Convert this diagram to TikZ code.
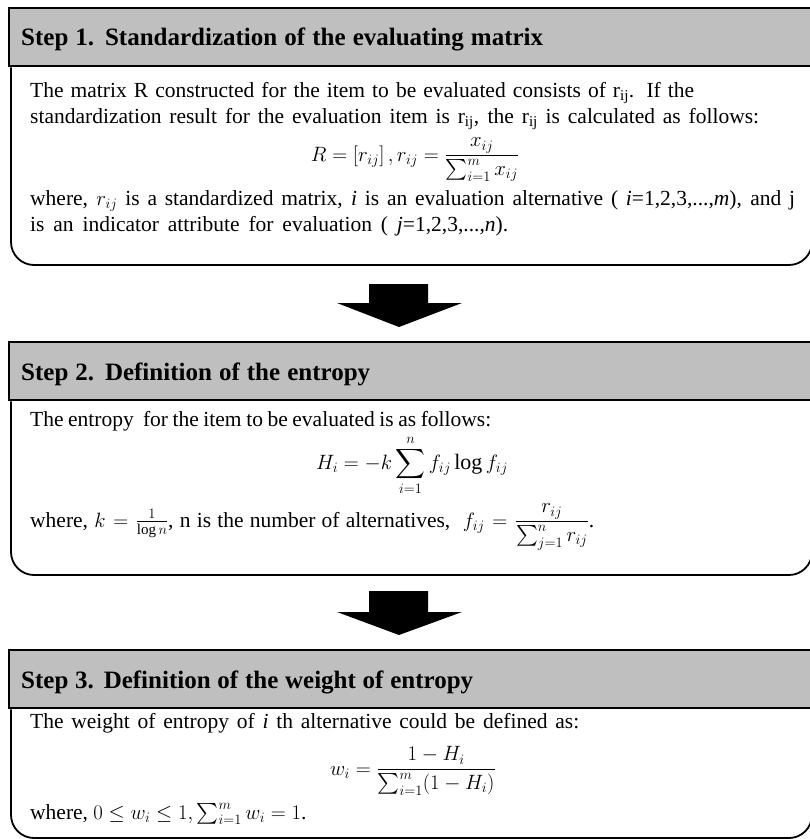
\documentclass[tikz,border=0pt]{standalone}
\usepackage{amsmath}
\usepackage{fontspec}
\setmainfont{Liberation Serif}
\definecolor{hdrgray}{HTML}{BFBFBF}
\newcommand{\spreadline}[2]{\makebox[#1][s]{#2}}
\begin{document}
\begin{tikzpicture}[x=1pt,y=-1pt,
  hdrbox/.style={draw=black, line width=2.3pt, fill=hdrgray, rectangle, inner sep=0pt, anchor=north west, minimum width=812pt, minimum height=58pt},
  bodyline/.style={draw=black, line width=1.8pt, rounded corners=23pt},
  htxt/.style={anchor=base west, inner sep=0pt, font=\fontsize{25}{28}\selectfont\bfseries},
  btxt/.style={anchor=base west, inner sep=0pt, font=\fontsize{21.5}{25}\selectfont},
  mtxt/.style={anchor=base, inner sep=0pt, font=\fontsize{22}{25}\selectfont},
  blockarrow/.style={fill=black, draw=none}]
\useasboundingbox (0,0) rectangle (810,839);

% ---------- Step 1 ----------
\node[hdrbox] (h1) at (8,7) {};
\coordinate (b1bot) at (11,265);
\draw[bodyline] ([xshift=3pt]h1.south west) -- (b1bot) -- (812,265) -- (812,65);
\node[htxt] (h1t) at (21,45) {\spreadline{522pt}{Step 1. Standardization of the evaluating matrix}};
\node[btxt] (s1l1) at (30,97) {\spreadline{664pt}{The matrix R constructed for the item to be evaluated consists of r\textsubscript{ij}. If the}};
\node[btxt] (s1l2) at (30,123) {\spreadline{729pt}{standardization result for the evaluation item is r\textsubscript{ij}, the r\textsubscript{ij} is calculated as follows:}};
\node[mtxt] (s1f) at (415,161) {$R=\left[r_{ij}\right], r_{ij}=\dfrac{x_{ij}}{\sum_{i=1}^{m} x_{ij}}$};
\node[btxt] (s1l3) at (30,205) {\spreadline{765pt}{where, $r_{ij}$ is a standardized matrix, \textit{i} is an evaluation alternative ( \textit{i}=1,2,3,...,\textit{m}), and j}};
\node[btxt] (s1l4) at (30,231) {\spreadline{478pt}{is an indicator attribute for evaluation ( \textit{j}=1,2,3,...,\textit{n}).}};

% ---------- arrow 1 ----------
\coordinate (a1) at (399,284);
\fill[blockarrow] (a1) ++(-30,0) -- ++(59,0) -- ++(0,19) -- ++(34,0) -- (399,327) -- (337,303) -- ++(32,0) -- cycle;

% ---------- Step 2 ----------
\node[hdrbox] (h2) at (8,341) {};
\coordinate (b2bot) at (11,575);
\draw[bodyline] ([xshift=3pt]h2.south west) -- (b2bot) -- (812,575) -- (812,399);
\node[htxt] (h2t) at (21,380) {\spreadline{349pt}{Step 2. Definition of the entropy}};
\node[btxt] (s2l1) at (30,426) {\spreadline{461pt}{The entropy\ \ for the item to be evaluated is as follows:}};
\node[mtxt] (s2f) at (412,469) {$\displaystyle H_i=-k\sum_{i=1}^{n} f_{ij}\log f_{ij}$};
\node[btxt] (s2l2) at (30,527) {\spreadline{564pt}{where, $k=\frac{1}{\log n}$, n is the number of alternatives, \ $f_{ij}=\dfrac{r_{ij}}{\sum_{j=1}^{n} r_{ij}}$.}};

% ---------- arrow 2 ----------
\coordinate (a2) at (399,591);
\fill[blockarrow] (a2) ++(-30,0) -- ++(59,0) -- ++(0,21) -- ++(34,0) -- (399,635) -- (337,612) -- ++(32,0) -- cycle;

% ---------- Step 3 ----------
\node[hdrbox] (h3) at (8,649) {};
\coordinate (b3bot) at (11,838);
\draw[bodyline] ([xshift=3pt]h3.south west) -- (b3bot) -- (812,838) -- (812,707);
\node[htxt] (h3t) at (21,688) {\spreadline{452pt}{Step 3. Definition of the weight of entropy}};
\node[btxt] (s3l1) at (30,728) {\spreadline{549pt}{The weight of entropy of \textit{i} th alternative could be defined as:}};
\node[mtxt] (s3f) at (413,775) {$w_i=\dfrac{1-H_i}{\sum_{i=1}^{m}(1-H_i)}$};
\node[btxt] (s3l2) at (30,819) {where, $0\le w_i\le 1, \sum_{i=1}^{m} w_i=1$.};
\end{tikzpicture}
\end{document}
